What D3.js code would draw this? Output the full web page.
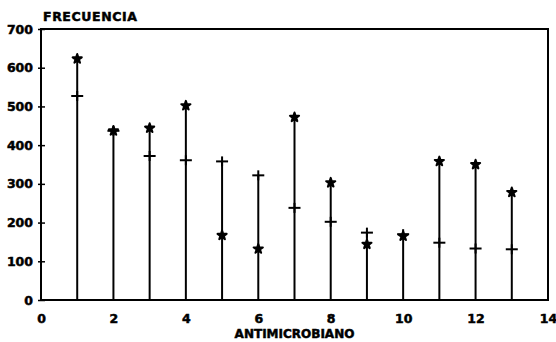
<!DOCTYPE html>
<html>
<head>
<meta charset="utf-8">
<script src="https://cdn.jsdelivr.net/npm/d3@7"></script>
<style>
  body { margin: 0; background: #fff; }
  text { font-family: "DejaVu Sans", sans-serif; font-weight: bold; fill: #000; stroke: #000; stroke-width: 0.5px; }
</style>
</head>
<body>
<svg id="chart" width="556" height="342"></svg>
<script>
  // Antimicrobianos 1..13, dos series (asterisco y cruz).
  var antimicrobiano = [1, 2, 3, 4, 5, 6, 7, 8, 9, 10, 11, 12, 13];
  var serieAsterisco = [623, 437, 444, 502, 167, 132, 472, 303, 144, 165, 358, 350, 278];
  var serieCruz      = [527, 437, 372, 361, 358, 322, 238, 202, 174, 170, 148, 133, 131];
  var xTicks = [0, 2, 4, 6, 8, 10, 12, 14];
  var yTicks = [0, 100, 200, 300, 400, 500, 600, 700];

  var svg = d3.select( '#chart' );

  var x = d3.scaleLinear().domain( [ 0, 14 ] ).range( [ 41, 548 ] ),
      y = d3.scaleLinear().domain( [ 0, 700 ] ).range( [ 300, 29 ] );

  var rows = antimicrobiano.map( function( a, i ) {
    return { a: a, star: serieAsterisco[ i ], plus: serieCruz[ i ] };
  });

  // Frame.
  svg.append( 'rect' )
    .attr( 'x', x( 0 ) )
    .attr( 'y', y( 700 ) )
    .attr( 'width', x( 14 ) - x( 0 ) )
    .attr( 'height', y( 0 ) - y( 700 ) )
    .style( 'fill', 'none' )
    .style( 'stroke', '#000' )
    .style( 'stroke-width', 2 );

  // Y axis: small ticks crossing the axis.
  var yAxis = svg.append( 'g' )
    .attr( 'transform', 'translate(' + x( 0 ) + ',0)' )
    .call( d3.axisLeft( y ).tickValues( yTicks ).tickSize( 3 ).tickPadding( 5 ) );
  yAxis.select( '.domain' ).remove();
  yAxis.selectAll( 'line' ).attr( 'x2', 4 ).attr( 'x1', -3 ).style( 'stroke-width', 1.5 );
  yAxis.selectAll( 'text' ).style( 'font-size', '12.5px' );

  // X axis labels only.
  var xAxis = svg.append( 'g' )
    .attr( 'transform', 'translate(0,' + y( 0 ) + ')' )
    .call( d3.axisBottom( x ).tickValues( xTicks ).tickSize( 0 ).tickPadding( 14 ) );
  xAxis.select( '.domain' ).remove();
  xAxis.selectAll( 'text' ).style( 'font-size', '12.5px' );

  // Stems from 0 to the larger value.
  svg.selectAll( '.stem' )
    .data( rows )
    .enter().append( 'line' )
      .attr( 'class', 'stem' )
      .attr( 'x1', function( d ) { return x( d.a ); } )
      .attr( 'x2', function( d ) { return x( d.a ); } )
      .attr( 'y1', y( 0 ) )
      .attr( 'y2', function( d ) { return y( Math.max( d.star, d.plus ) ); } )
      .style( 'stroke', '#000' )
      .style( 'stroke-width', 2 );

  // Plus markers.
  svg.selectAll( '.plus' )
    .data( rows )
    .enter().append( 'g' )
      .attr( 'class', 'plus' )
      .attr( 'transform', function( d ) { return 'translate(' + x( d.a ) + ',' + y( d.plus ) + ')'; } )
      .each( function() {
        var g = d3.select( this );
        g.append( 'line' ).attr( 'x1', -6 ).attr( 'x2', 6 ).style( 'stroke', '#000' ).style( 'stroke-width', 2 );
        g.append( 'line' ).attr( 'y1', -5 ).attr( 'y2', 5 ).style( 'stroke', '#000' ).style( 'stroke-width', 2 );
      });

  // Asterisk markers (printed as filled blobs).
  svg.selectAll( '.star' )
    .data( rows )
    .enter().append( 'path' )
      .attr( 'class', 'star' )
      .attr( 'd', d3.symbol().type( d3.symbolStar ).size( 26 ) )
      .attr( 'transform', function( d ) { return 'translate(' + x( d.a ) + ',' + y( d.star ) + ')'; } )
      .style( 'fill', '#000' )
      .style( 'stroke', '#000' )
      .style( 'stroke-width', 2 )
      .style( 'stroke-linejoin', 'round' );

  // Titles.
  svg.append( 'text' )
    .attr( 'x', 43 )
    .attr( 'y', 21 )
    .style( 'font-size', '12.5px' )
    .style( 'letter-spacing', '0.6px' )
    .text( 'FRECUENCIA' );

  svg.append( 'text' )
    .attr( 'x', ( x( 0 ) + x( 14 ) ) / 2 )
    .attr( 'y', 338 )
    .style( 'font-size', '12px' )
    .style( 'text-anchor', 'middle' )
    .text( 'ANTIMICROBIANO' );
</script>
</body>
</html>
